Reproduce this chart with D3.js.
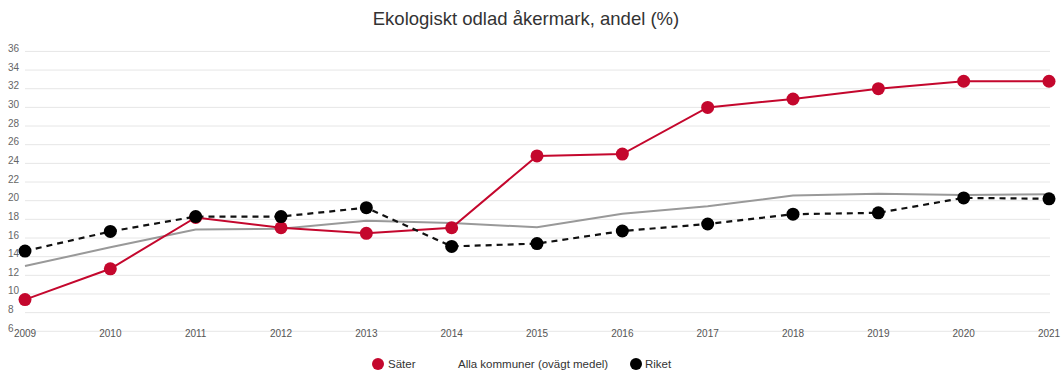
<!DOCTYPE html>
<html>
<head>
<meta charset="utf-8">
<script src="https://cdn.jsdelivr.net/npm/d3@7"></script>
<style>
  html, body { margin: 0; padding: 0; background: #fff; }
  svg { display: block; font-family: "Liberation Sans", Arial, sans-serif; }
</style>
</head>
<body>
<svg id="chart" width="1061" height="372"></svg>
<script>
// Ekologiskt odlad åkermark, andel (%)
const years = [2009, 2010, 2011, 2012, 2013, 2014, 2015, 2016, 2017, 2018, 2019, 2020, 2021];
const sater = [9.4, 12.7, 18.2, 17.1, 16.5, 17.1, 24.8, 25.0, 30.0, 30.9, 32.0, 32.8, 32.8];
const allaKommuner = [13.0, 15.0, 16.9, 17.0, 17.85, 17.6, 17.15, 18.6, 19.4, 20.55, 20.75, 20.6, 20.7];
const riket = [14.6, 16.7, 18.3, 18.3, 19.25, 15.1, 15.4, 16.75, 17.5, 18.55, 18.7, 20.3, 20.2];
const yTicks = [6, 8, 10, 12, 14, 16, 18, 20, 22, 24, 26, 28, 30, 32, 34, 36];

const svg = d3.select("#chart");
const x = d3.scaleLinear().domain([2009, 2021]).range([25, 1049]);
const y = d3.scaleLinear().domain([6, 36]).range([331.3, 51.4]);

// title
svg.append("text")
  .attr("x", 526).attr("y", 25)
  .attr("text-anchor", "middle")
  .attr("font-size", 18.5).attr("fill", "#333")
  .text("Ekologiskt odlad åkermark, andel (%)");

// horizontal grid
svg.append("g").selectAll("line").data(yTicks).join("line")
  .attr("x1", 25).attr("x2", 1050)
  .attr("y1", d => y(d)).attr("y2", d => y(d))
  .attr("stroke", "#e6e6e6").attr("stroke-width", 1);

// y tick labels, sitting on their grid line
svg.append("g").selectAll("text").data(yTicks).join("text")
  .attr("x", 8).attr("y", d => y(d) + 0.5)
  .attr("font-size", 10).attr("fill", "#666")
  .text(d => d);

// x tick labels
svg.append("g").selectAll("text").data(years).join("text")
  .attr("x", d => x(d)).attr("y", 337)
  .attr("text-anchor", "middle")
  .attr("font-size", 10).attr("fill", "#555")
  .text(d => d);

const line = d3.line().x((d, i) => x(years[i])).y(d => y(d));

// Alla kommuner (ovägt medel)
svg.append("path").datum(allaKommuner)
  .attr("d", line).attr("fill", "none")
  .attr("stroke", "#999").attr("stroke-width", 2);

// Säter
svg.append("path").datum(sater)
  .attr("d", line).attr("fill", "none")
  .attr("stroke", "#c4072d").attr("stroke-width", 2);
svg.append("g").selectAll("circle").data(sater).join("circle")
  .attr("cx", (d, i) => x(years[i])).attr("cy", d => y(d))
  .attr("r", 6.5).attr("fill", "#c4072d");

// Riket
svg.append("path").datum(riket)
  .attr("d", line).attr("fill", "none")
  .attr("stroke", "#111").attr("stroke-width", 2.2)
  .attr("stroke-dasharray", "6,5");
svg.append("g").selectAll("circle").data(riket).join("circle")
  .attr("cx", (d, i) => x(years[i])).attr("cy", d => y(d))
  .attr("r", 6.5).attr("fill", "#000");

// legend
const legend = svg.append("g").attr("font-size", 11.5).attr("fill", "#333");
legend.append("circle").attr("cx", 378).attr("cy", 364).attr("r", 6).attr("fill", "#c4072d");
legend.append("text").attr("x", 388).attr("y", 368).text("Säter");
legend.append("text").attr("x", 458).attr("y", 368).text("Alla kommuner (ovägt medel)");
legend.append("circle").attr("cx", 636).attr("cy", 364).attr("r", 6).attr("fill", "#000");
legend.append("text").attr("x", 645).attr("y", 368).text("Riket");
</script>
</body>
</html>
